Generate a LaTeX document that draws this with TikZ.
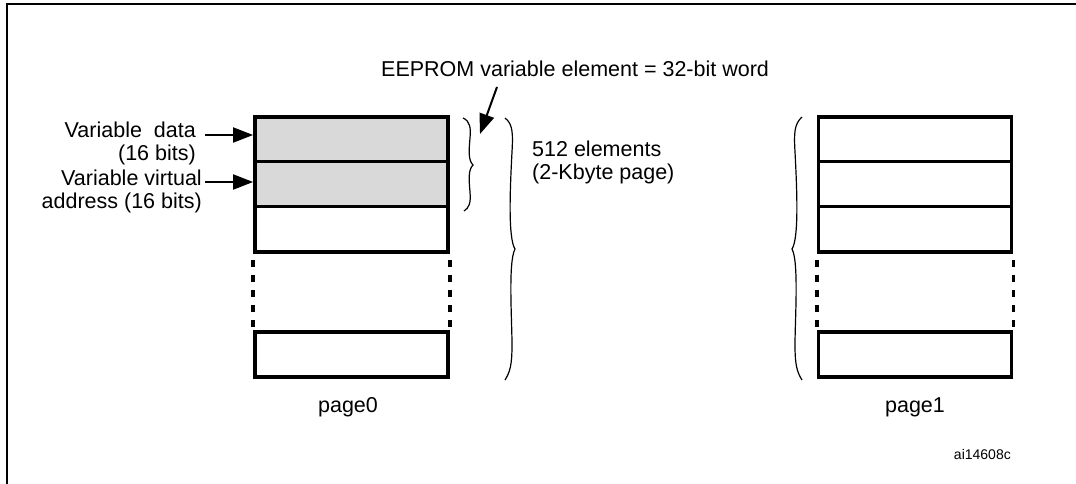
\documentclass[tikz,border=0pt]{standalone}
\usepackage{fontspec}
\setmainfont{Liberation Sans}
\usetikzlibrary{arrows.meta}
\begin{document}
\begin{tikzpicture}[x=1pt,y=-1pt,
  lbl/.style={font=\fontsize{21.5}{23.5}\selectfont, inner sep=0pt},
  small/.style={font=\fontsize{14}{16}\selectfont, inner sep=0pt},
  cell/.style={draw, line width=3.8pt, minimum width=193pt, inner sep=0pt},
  gcell/.style={cell, fill=black!15},
  dots/.style={line width=3.8pt, dash pattern=on 7pt off 8pt},
  brace/.style={line width=1.2pt},
  arr/.style={line width=2pt, -{Triangle[length=20pt,width=15pt]}}
]
\useasboundingbox (0,0) rectangle (1076,484);
\draw[line width=2.2pt] (7,484) -- (7,4) -- (1076,4);

% page0
\node[gcell, minimum height=44.5pt] (a1) at (351.5,139.25) {};
\node[gcell, minimum height=45pt] (a2) at (351.5,184) {};
\node[cell, minimum height=45.5pt] (a3) at (351.5,229.25) {};
\node[cell, minimum height=45pt] (a4) at (351.5,354.5) {};
\draw[dots] (a3.south west) ++(0,6) -- (a4.north west);
\draw[dots] (a3.south east) ++(0,6) -- (a4.north east);
\node[lbl, anchor=base] (pg0) at (348,412) {page0};

% page1
\node[cell, minimum height=44.5pt] (b1) at (915,139.25) {};
\node[cell, minimum height=45pt] (b2) at (915,184) {};
\node[cell, minimum height=45.5pt] (b3) at (915,229.25) {};
\node[cell, minimum height=45pt] (b4) at (915,354.5) {};
\draw[dots] (b3.south west) ++(0,6) -- (b4.north west);
\draw[dots] (b3.south east) ++(0,6) -- (b4.north east);
\node[lbl, anchor=base] (pg1) at (915,412) {page1};

% labels
\node[lbl, align=right, anchor=north east] (ld) at (196,121.5) {Variable\ \ data\\(16 bits)};
\node[lbl, align=right, anchor=north east] (lv) at (202,169.5) {Variable virtual\\address (16 bits)};
\coordinate (s1) at (205,135);
\coordinate (s2) at (205,182);
\draw[arr] (s1) -- (s1 -| a1.west);
\draw[arr] (s2) -- (s2 -| a2.west);

\node[lbl, anchor=base west] (ee) at (381,77) {EEPROM variable element = 32-bit word};
\coordinate (e0) at (497,87);
\coordinate (e1) at (480,134);
\draw[arr] (e0) -- (e1);

\node[lbl, align=left, anchor=north west] (n512) at (532,140.5) {512 elements\\(2-Kbyte page)};
\node[small, anchor=base east] (id) at (1011,459) {ai14608c};

% braces
\draw[brace] (463,118) .. controls (470,121) and (471,128) .. (470,138)
  .. controls (469,150) and (468,160) .. (473,165)
  .. controls (468,170) and (469,180) .. (470,192)
  .. controls (471,203) and (469,208) .. (464,211);
\draw[brace] (505,118) .. controls (513,124) and (513,134) .. (512,152)
  .. controls (510,190) and (508,238) .. (515,249)
  .. controls (508,262) and (512,320) .. (512,345)
  .. controls (512,365) and (510,372) .. (505,380);
\draw[brace] (802,117) .. controls (794,124) and (794,134) .. (795,152)
  .. controls (797,190) and (799,238) .. (792,249)
  .. controls (799,262) and (795,320) .. (795,345)
  .. controls (795,365) and (797,372) .. (802,380);
\end{tikzpicture}
\end{document}
